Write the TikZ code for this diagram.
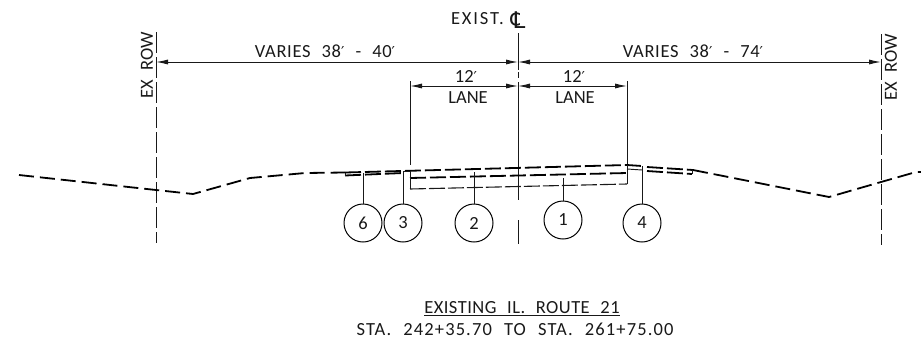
\documentclass[tikz,border=0pt]{standalone}
\usepackage{fontspec}
\setmainfont{Carlito}[WordSpace=2.3]
\newfontfamily\symfont{DejaVu Sans}
\newcommand{\ft}{{\symfont\fontsize{15}{16}\selectfont ′}}
\newcommand{\lsp}[1]{\addfontfeatures{LetterSpace=#1}}
\usetikzlibrary{arrows.meta}
\tikzset{
  x=1pt,y=-1pt,
  lbl/.style={inner sep=0pt,font=\fontsize{18.5}{20}\selectfont,text=black!90},
  bub/.style={circle,draw,line width=1pt,minimum size=38pt,inner sep=0pt,font=\fontsize{18.5}{20}\selectfont,text=black!90},
  ln/.style={line width=0.95pt,draw=black!90},
  dim/.style={ln,{Latex[length=12pt,width=5pt]}-{Latex[length=12pt,width=5pt]}},
  cl/.style={ln,dash pattern=on 21pt off 4pt},
  gnd/.style={line width=1.8pt,draw=black,dash pattern=on 15pt off 6pt},
  road/.style={line width=1.8pt,draw=black,dash pattern=on 16pt off 4pt},
  base/.style={line width=1.1pt,draw=black!90,dash pattern=on 16pt off 3pt},
}
\begin{document}
\begin{tikzpicture}
\useasboundingbox (0,0) rectangle (921,341);
% key coordinates
\coordinate (rowLt) at (156,32); \coordinate (rowLb) at (156,243);
\coordinate (rowRt) at (881,34); \coordinate (rowRb) at (881,245);
\coordinate (dimL) at (156,62); \coordinate (dimC) at (518,62); \coordinate (dimR) at (881,62);
\coordinate (lanL) at (410,86); \coordinate (lanC) at (518,86); \coordinate (lanR) at (627,86);
\coordinate (extLt) at (410,81); \coordinate (extLb) at (410,165);
\coordinate (extRt) at (627,81); \coordinate (extRb) at (627,165);
% lines of reference
\draw[cl] (rowLt) -- (rowLb);
\draw[cl] (rowRt) -- (rowRb);
\draw[ln] (518,33) -- (518,70);
\draw[ln] (518,72) -- (518,78);
\draw[ln] (518,82) -- (518,200);
\draw[ln] (518,220) -- (518,244);
\draw[ln] (extLt) -- (extLb);
\draw[ln] (extRt) -- (extRb);
% dimensions
\draw[dim] (dimL) -- (dimC);
\draw[dim] (dimC) -- (dimR);
\draw[dim] (lanL) -- (lanC);
\draw[dim] (lanC) -- (lanR);
% ground
\draw[gnd] (19,175) -- (156,190) -- (193,194) -- (250,178) -- (305,173) -- (345,172.5);
\draw[gnd] (693,170) -- (829,197) -- (881,182) -- (916,172) -- (921,172);
% pavement
\draw[road] (345,172.5) -- (627,165) -- (642,166);
\draw[road] (647,167) -- (693,170);
\draw[road] (345,175.5) -- (403,173);
\draw[road] (410,178) -- (627,173);
\draw[road] (647,171) -- (692,174);
\draw[base] (410,189) -- (627,184);
\draw[ln] (403,171) -- (410,171) -- (410,189);
\draw[ln] (627,165) -- (627,184);
\draw[ln] (627,169) -- (642,170);
\draw[ln] (692,170) -- (692,174);
\draw[ln] (345,172.5) -- (345,175.5);
% bubbles
\node[bub] (b6) at (363,223) {6};
\node[bub] (b3) at (403,223) {3};
\node[bub] (b2) at (474,223) {2};
\node[bub] (b1) at (563,220) {1};
\node[bub] (b4) at (642,223) {4};
\coordinate (t6) at (363,173); \coordinate (t3) at (403,171); \coordinate (t2) at (474,172);
\coordinate (t1) at (563,178); \coordinate (t4) at (642,166);
\draw[ln] (b6) -- (t6);
\draw[ln] (b3) -- (t3);
\draw[ln] (b2) -- (t2);
\draw[ln] (b1) -- (t1);
\draw[ln] (b4) -- (t4);
% texts
\node[lbl,anchor=east] (ex) at (504,19) {\lsp{10}EXIST.};
\node[lbl,font=\fontsize{23}{24}\symfont] (cls) at (518,20) {℄};
\node[lbl] (v1) at (325,51) {\lsp{3.5}VARIES 38\ft{} - 40\ft};
\node[lbl] (v2) at (693,51) {\lsp{3.5}VARIES 38\ft{} - 74\ft};
\node[lbl] (t12a) at (466,76) {12\ft};
\node[lbl] (t12b) at (574,76) {12\ft};
\node[lbl] (lna) at (468,98) {LANE};
\node[lbl] (lnb) at (575,98) {LANE};
\node[lbl,rotate=90] (ra) at (147,65) {EX ROW};
\node[lbl,rotate=90] (rb) at (891,67) {EX ROW};
\node[lbl] (ta) at (522,309) {\lsp{2.5}\underline{EXISTING IL. ROUTE 21}};
\node[lbl] (tb) at (515,329) {\lsp{6}STA. 242+35.70 TO STA. 261+75.00};
\end{tikzpicture}
\end{document}
